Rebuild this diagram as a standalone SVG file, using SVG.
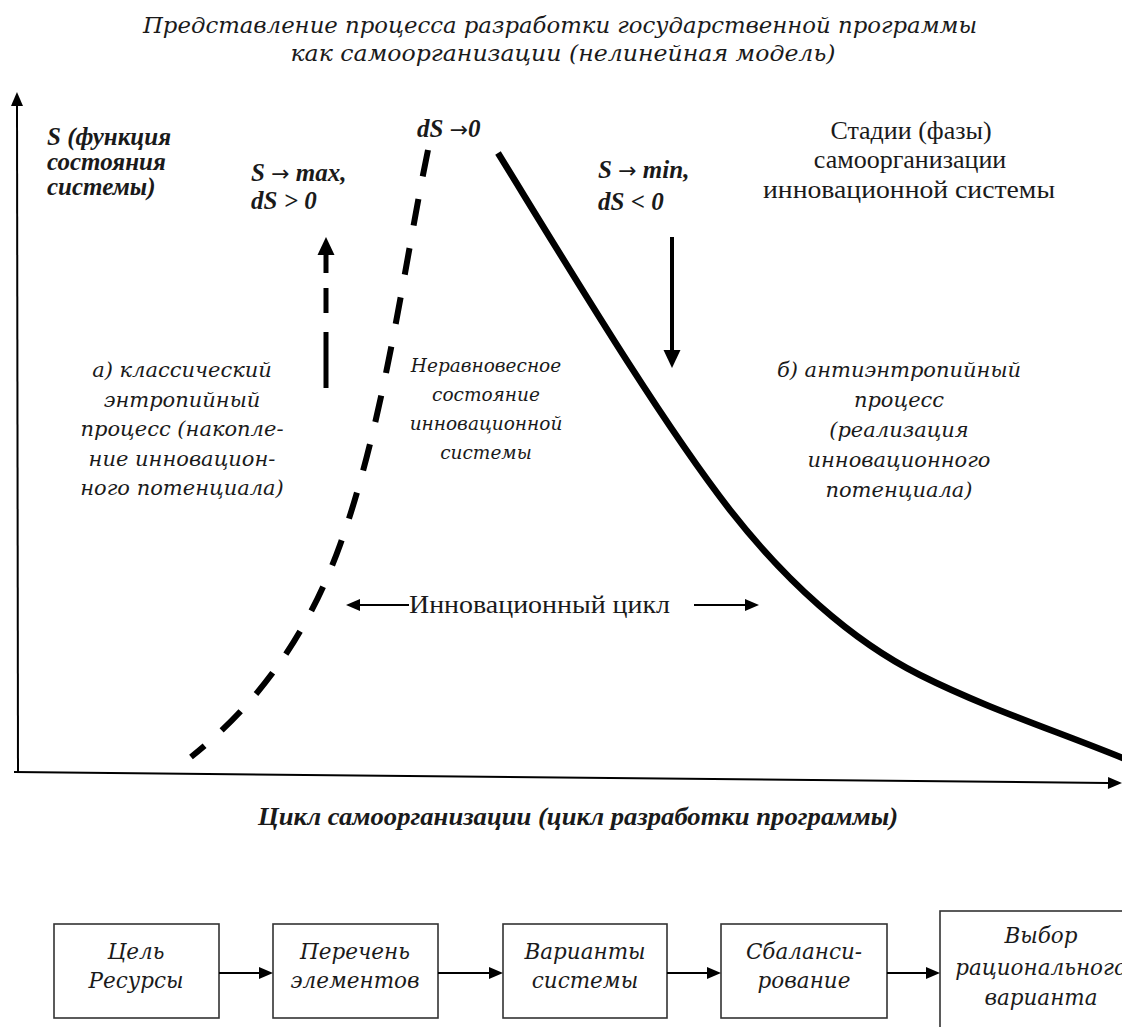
<svg xmlns="http://www.w3.org/2000/svg" width="1122" height="1027" viewBox="0 0 1122 1027">
<style>
text{fill:#1a1a1a}
.it{font-family:"DejaVu Serif",serif;font-style:italic}
.bi{font-family:"Liberation Serif",serif;font-style:italic;font-weight:bold;font-size:25px}
.ar{font-family:"DejaVu Sans",sans-serif;font-style:normal;font-weight:normal;font-size:22px}
.rg{font-family:"Liberation Serif",serif;font-size:26px}
.c{text-anchor:middle}
.bx{font-size:21.5px}
.thin{stroke:#000;stroke-width:2;fill:none}
.box{fill:#fff;stroke:#333;stroke-width:1.6}
</style>
<defs>
<marker id="ah" markerUnits="userSpaceOnUse" markerWidth="14" markerHeight="12" refX="0" refY="6" orient="auto" overflow="visible"><path d="M0,0 L14,6 L0,12 z" fill="#000"/></marker>
<marker id="ahb" markerUnits="userSpaceOnUse" markerWidth="18" markerHeight="17" refX="0" refY="8.5" orient="auto" overflow="visible"><path d="M0,0 L18,8.5 L0,17 z" fill="#000"/></marker>
</defs>
<rect width="1122" height="1027" fill="#fff"/>

<g id="title" class="it c" font-size="23">
<text x="560" y="33" textLength="834" lengthAdjust="spacingAndGlyphs">Представление процесса разработки государственной программы</text>
<text x="563" y="61" textLength="545" lengthAdjust="spacingAndGlyphs">как самоорганизации (нелинейная модель)</text>
</g>

<g id="axes">
<line class="thin" x1="18" y1="773" x2="17" y2="106" marker-end="url(#ah)"/>
<line class="thin" x1="14" y1="772" x2="1108" y2="782.9" marker-end="url(#ah)"/>
</g>

<g id="y-label" class="bi">
<text x="47" y="145">S (функция</text>
<text x="47" y="170">состояния</text>
<text x="47" y="195">системы)</text>
</g>

<g id="x-label">
<text class="bi c" x="578" y="825" textLength="640" lengthAdjust="spacingAndGlyphs">Цикл самоорганизации (цикл разработки программы)</text>
</g>

<g id="curves">
<path d="M428,150 C405,260 385,420 340,545 C304,645 250,710 191,757" fill="none" stroke="#000" stroke-width="6" stroke-dasharray="27 23"/>
<path d="M498,153 C570,270 660,420 730,510 C784,579 850,640 920,675 C990,710 1060,732 1130,761" fill="none" stroke="#000" stroke-width="6.5"/>
</g>

<g id="labels-top" class="bi">
<text x="251" y="181">S <tspan class="ar">→</tspan> max,</text>
<text x="251" y="209">dS &gt; 0</text>
<text x="417" y="137">dS <tspan class="ar">→</tspan>0</text>
<text x="598" y="178">S <tspan class="ar">→</tspan> min,</text>
<text x="598" y="210">dS &lt; 0</text>
</g>

<g id="stages" class="rg c">
<text x="911" y="139">Стадии (фазы)</text>
<text x="910" y="168">самоорганизации</text>
<text x="909" y="198" textLength="292" lengthAdjust="spacingAndGlyphs">инновационной системы</text>
</g>

<g id="label-a" class="it c" font-size="21">
<text x="182" y="377">а) классический</text>
<text x="182" y="406.5">энтропийный</text>
<text x="182" y="436">процесс (накопле-</text>
<text x="182" y="465.5">ние инновацион-</text>
<text x="182" y="495">ного потенциала)</text>
</g>

<g id="label-mid" class="it c" font-size="18.5">
<text x="486" y="372">Неравновесное</text>
<text x="486" y="401">состояние</text>
<text x="486" y="430">инновационной</text>
<text x="486" y="459">системы</text>
</g>

<g id="label-b" class="it c" font-size="21">
<text x="899" y="377">б) антиэнтропийный</text>
<text x="899" y="407">процесс</text>
<text x="899" y="437">(реализация</text>
<text x="899" y="467">инновационного</text>
<text x="899" y="497">потенциала)</text>
</g>

<g id="cycle-label">
<text class="rg" x="409" y="613" textLength="261" lengthAdjust="spacingAndGlyphs">Инновационный цикл</text>
</g>

<g id="box1"><rect class="box" x="54" y="924" width="165" height="94"/>
<text class="it c bx" x="136" y="959">Цель</text><text class="it c bx" x="136" y="988">Ресурсы</text></g>
<g id="box2"><rect class="box" x="273" y="924" width="165" height="94"/>
<text class="it c bx" x="355" y="959">Перечень</text><text class="it c bx" x="355" y="988">элементов</text></g>
<g id="box3"><rect class="box" x="503" y="924" width="164" height="94"/>
<text class="it c bx" x="585" y="959">Варианты</text><text class="it c bx" x="585" y="988">системы</text></g>
<g id="box4"><rect class="box" x="721" y="924" width="166" height="94"/>
<text class="it c bx" x="804" y="959">Сбаланси-</text><text class="it c bx" x="804" y="988">рование</text></g>
<g id="box5"><rect class="box" x="940" y="911" width="200" height="140"/>
<text class="it c bx" x="1041" y="943">Выбор</text><text class="it c bx" x="1041" y="975">рационального</text><text class="it c bx" x="1041" y="1005">варианта</text></g>

<g id="connectors">
<line class="thin" x1="219" y1="973" x2="259" y2="973" marker-end="url(#ah)"/>
<line class="thin" x1="438" y1="973" x2="489" y2="973" marker-end="url(#ah)"/>
<line class="thin" x1="667" y1="973" x2="707" y2="973" marker-end="url(#ah)"/>
<line class="thin" x1="887" y1="973" x2="926" y2="973" marker-end="url(#ah)"/>
<line class="thin" x1="409" y1="605" x2="360" y2="605" marker-end="url(#ah)"/>
<line class="thin" x1="694" y1="605" x2="745" y2="605" marker-end="url(#ah)"/>
<g stroke="#000" stroke-width="5">
<line x1="326" y1="388" x2="326" y2="332"/>
<line x1="326" y1="313" x2="326" y2="288"/>
<line x1="326" y1="273" x2="326" y2="255" marker-end="url(#ahb)"/>
</g>
<line stroke="#000" stroke-width="4" x1="672" y1="237" x2="672" y2="350" marker-end="url(#ahb)"/>
</g>
</svg>
